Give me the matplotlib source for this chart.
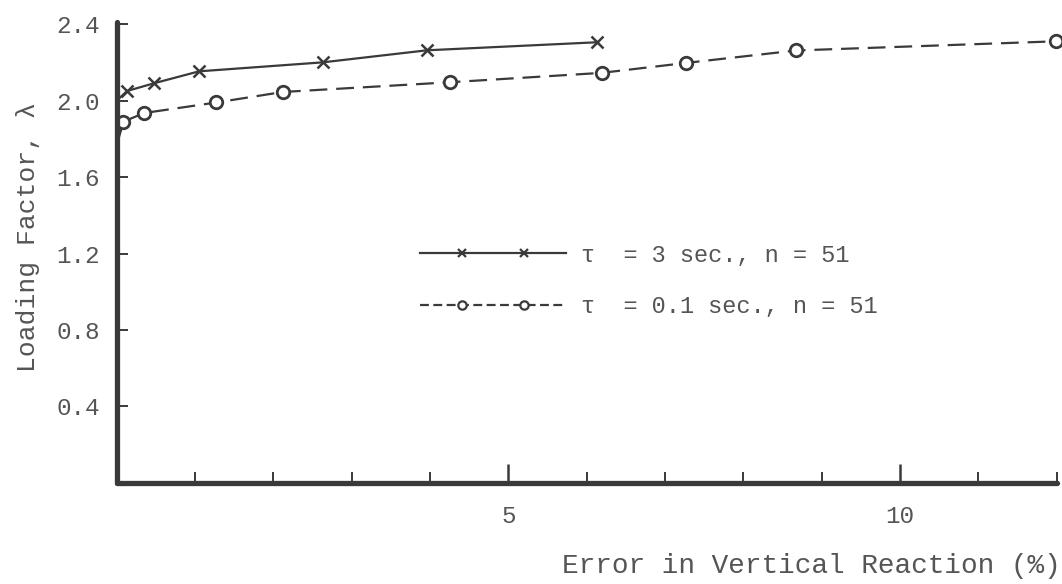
import matplotlib.pyplot as plt
from matplotlib.lines import Line2D
from matplotlib.legend_handler import HandlerLine2D

# values
x_tau3 = [0.0, 0.13, 0.47, 1.05, 2.63, 3.96, 6.13]
y_tau3 = [2.00, 2.05, 2.09, 2.153, 2.20, 2.263, 2.305]
x_tau01 = [0.0, 0.085, 0.35, 1.27, 2.12, 4.26, 6.19, 7.27, 8.67, 11.99]
y_tau01 = [1.77, 1.89, 1.935, 1.99, 2.045, 2.096, 2.145, 2.197, 2.262, 2.31]

labels = ["\u03c4  = 3 sec., n = 51", "\u03c4  = 0.1 sec., n = 51"]
yticks = [0.4, 0.8, 1.2, 1.6, 2.0, 2.4]
xmajor = [5, 10]
xminor = [1, 2, 3, 4, 6, 7, 8, 9, 11, 12]

ink = "#3a3a3a"
txt = "#555555"
plt.rcParams['font.family'] = ['Liberation Mono', 'DejaVu Sans Mono']

fig = plt.figure(figsize=(10.62, 5.84), dpi=100)
ax = fig.add_axes([0.110, 0.173, 0.885, 0.789])

# data, first point (on the axis) has no marker
ax.plot(x_tau3, y_tau3, color=ink, lw=1.6, marker='x', ms=8, mew=1.8,
        markevery=list(range(1, len(x_tau3))), clip_on=False)
ax.plot(x_tau01, y_tau01, color=ink, lw=1.6, ls=(0, (8, 4)), marker='o', ms=9,
        mfc='white', mec=ink, mew=2, markevery=list(range(1, len(x_tau01))),
        clip_on=False)

ax.set_xlim(0, 12)
ax.set_ylim(0, 2.41)

for side in ['top', 'right']:
    ax.spines[side].set_visible(False)
for side in ['left', 'bottom']:
    ax.spines[side].set_linewidth(3.8)
    ax.spines[side].set_color(ink)
    ax.spines[side].set_capstyle('round')

ax.set_yticks(yticks)
ax.set_yticklabels([f"{v:.1f}" for v in yticks])
ax.set_xticks(xmajor)
ax.set_xticks(xminor, minor=True)
ax.tick_params(axis='y', direction='in', length=8, width=1.4, color=ink,
               labelsize=17.5, labelcolor=txt, pad=12)
ax.tick_params(axis='x', which='major', direction='in', length=14, width=1.8,
               color=ink, labelsize=17.5, labelcolor=txt, pad=16)
ax.tick_params(axis='x', which='minor', direction='in', length=8, width=1.4,
               color=ink)

ax.set_xlabel("Error in Vertical Reaction (%)", loc='right', fontsize=20,
              color=txt)
ax.xaxis.set_label_coords(1.004, -0.153)
ax.set_ylabel("Loading Factor, \u03bb", fontsize=19, color=txt)
ax.yaxis.set_label_coords(-0.082, 0.534)

# legend: full-length line with two markers set in from the ends
l1 = Line2D([], [], color=ink, lw=1.6)
m1 = Line2D([], [], ls='none', marker='x', color=ink, ms=6, mew=1.6)
l2 = Line2D([], [], color=ink, lw=1.6, ls=(0, (4, 2)))
m2 = Line2D([], [], ls='none', marker='o', ms=6, mfc='white', mec=ink, mew=1.6)
hmap = {m1: HandlerLine2D(numpoints=2, marker_pad=1.8),
        m2: HandlerLine2D(numpoints=2, marker_pad=1.8)}
ax.legend([(l1, m1), (l2, m2)], labels, handler_map=hmap, loc='upper left',
          bbox_to_anchor=(0.31, 0.545), frameon=False, handlelength=6.2,
          handletextpad=0.6, labelspacing=1.2, borderpad=0, fontsize=17,
          labelcolor=txt)

fig.savefig("out.png", dpi=100)
